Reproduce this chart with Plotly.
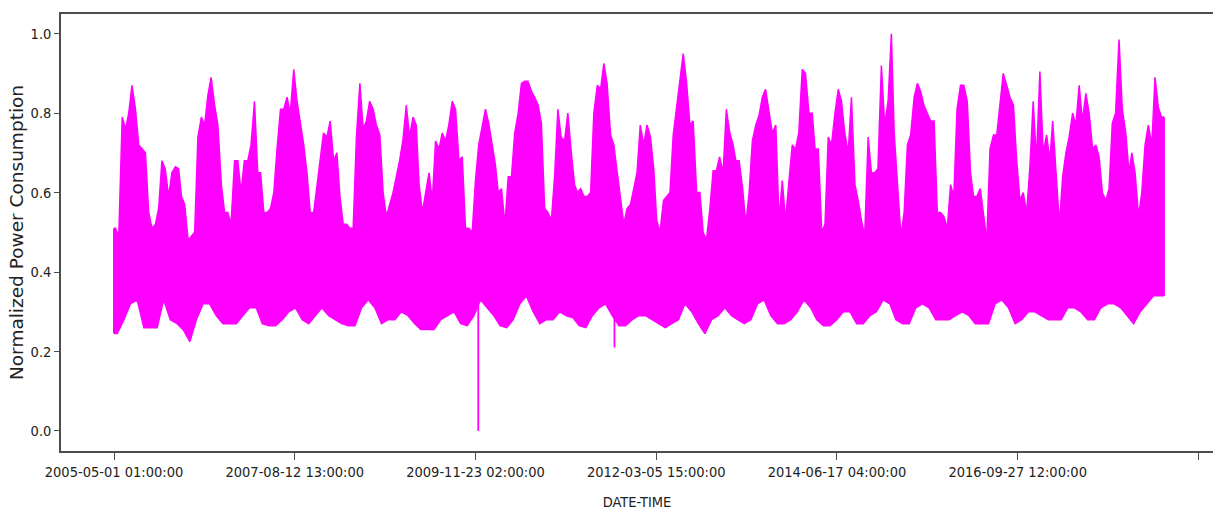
import pandas as pd
import plotly.graph_objects as go

# ---- data: envelope of the hourly series ----
# first month of the record; every array below is consecutive from here
first_month = "2005-05-01"

# upper envelope, one value per half-month (May 2005 ... Jul 2018)
halfmonth_max = [
    0.51, 0.49, 0.79, 0.76, 0.80, 0.87, 0.81, 0.72, 0.71, 0.70,
    0.55, 0.51, 0.52, 0.56, 0.68, 0.66, 0.59, 0.65, 0.665, 0.66,
    0.59, 0.57, 0.48, 0.49, 0.50, 0.74, 0.79, 0.77, 0.845, 0.89,
    0.82, 0.77, 0.62, 0.55, 0.55, 0.52, 0.68, 0.68, 0.60, 0.68,
    0.68, 0.72, 0.83, 0.65, 0.65, 0.55, 0.55, 0.56, 0.60, 0.71,
    0.81, 0.81, 0.84, 0.80, 0.91, 0.83, 0.77, 0.72, 0.65, 0.55,
    0.55, 0.62, 0.69, 0.75, 0.74, 0.78, 0.68, 0.70, 0.59, 0.52,
    0.52, 0.51, 0.51, 0.74, 0.875, 0.76, 0.78, 0.83, 0.81, 0.77,
    0.745, 0.60, 0.54, 0.57, 0.60, 0.64, 0.68, 0.73, 0.82, 0.74,
    0.79, 0.77, 0.62, 0.55, 0.60, 0.65, 0.58, 0.73, 0.71, 0.75,
    0.73, 0.77, 0.83, 0.81, 0.68, 0.69, 0.51, 0.51, 0.50, 0.63,
    0.72, 0.76, 0.81, 0.775, 0.72, 0.67, 0.60, 0.61, 0.52, 0.64,
    0.64, 0.75, 0.80, 0.875, 0.88, 0.88, 0.855, 0.84, 0.82, 0.775,
    0.56, 0.55, 0.53, 0.64, 0.81, 0.74, 0.73, 0.80, 0.70, 0.62,
    0.60, 0.61, 0.59, 0.59, 0.60, 0.80, 0.87, 0.86, 0.925, 0.875,
    0.745, 0.72, 0.65, 0.58, 0.52, 0.56, 0.57, 0.61, 0.65, 0.77,
    0.72, 0.77, 0.74, 0.66, 0.53, 0.50, 0.58, 0.59, 0.60, 0.745,
    0.82, 0.88, 0.95, 0.88, 0.77, 0.78, 0.60, 0.60, 0.50, 0.48,
    0.56, 0.655, 0.655, 0.69, 0.65, 0.81, 0.75, 0.72, 0.68, 0.68,
    0.61, 0.52, 0.60, 0.73, 0.77, 0.795, 0.84, 0.86, 0.80, 0.75,
    0.77, 0.53, 0.63, 0.53, 0.63, 0.72, 0.71, 0.75, 0.91, 0.90,
    0.80, 0.80, 0.71, 0.71, 0.50, 0.52, 0.74, 0.72, 0.80, 0.86,
    0.83, 0.75, 0.70, 0.84, 0.62, 0.58, 0.53, 0.49, 0.74, 0.65,
    0.65, 0.66, 0.92, 0.77, 0.83, 1.00, 0.75, 0.61, 0.49, 0.55,
    0.72, 0.745, 0.84, 0.875, 0.855, 0.82, 0.80, 0.78, 0.78, 0.55,
    0.55, 0.54, 0.51, 0.62, 0.59, 0.81, 0.87, 0.87, 0.83, 0.65,
    0.59, 0.59, 0.61, 0.54, 0.48, 0.71, 0.745, 0.745, 0.815, 0.90,
    0.87, 0.84, 0.82, 0.68, 0.58, 0.60, 0.55, 0.665, 0.83, 0.68,
    0.905, 0.70, 0.745, 0.68, 0.78, 0.65, 0.52, 0.64, 0.70, 0.74,
    0.80, 0.77, 0.87, 0.78, 0.85, 0.80, 0.71, 0.72, 0.69, 0.60,
    0.58, 0.61, 0.775, 0.80, 0.985, 0.81, 0.75, 0.65, 0.70, 0.65,
    0.54, 0.60, 0.72, 0.77, 0.72, 0.89, 0.815, 0.79,
]

# lower envelope, one value per month (May 2005 ... Jul 2018)
monthly_min = [
    0.245, 0.28, 0.32, 0.33, 0.26, 0.26, 0.26, 0.33, 0.28, 0.27,
    0.255, 0.225, 0.28, 0.32, 0.32, 0.29, 0.27, 0.27, 0.27, 0.29,
    0.31, 0.31, 0.27, 0.265, 0.265, 0.28, 0.30, 0.31, 0.28, 0.27,
    0.29, 0.31, 0.29, 0.28, 0.27, 0.265, 0.265, 0.31, 0.33, 0.31,
    0.27, 0.28, 0.28, 0.30, 0.29, 0.27, 0.255, 0.255, 0.255, 0.28,
    0.29, 0.30, 0.27, 0.265, 0.29, 0.33, 0.31, 0.29, 0.265, 0.26,
    0.28, 0.32, 0.34, 0.30, 0.27, 0.28, 0.28, 0.30, 0.29, 0.285,
    0.265, 0.26, 0.29, 0.31, 0.32, 0.29, 0.265, 0.265, 0.28, 0.29,
    0.29, 0.28, 0.27, 0.26, 0.27, 0.28, 0.32, 0.30, 0.27, 0.245,
    0.28, 0.29, 0.31, 0.29, 0.28, 0.27, 0.28, 0.32, 0.33, 0.29,
    0.27, 0.27, 0.28, 0.30, 0.33, 0.31, 0.28, 0.265, 0.265, 0.28,
    0.30, 0.30, 0.27, 0.27, 0.29, 0.30, 0.33, 0.32, 0.28, 0.27,
    0.27, 0.31, 0.32, 0.31, 0.28, 0.28, 0.28, 0.29, 0.30, 0.29,
    0.27, 0.27, 0.27, 0.32, 0.33, 0.31, 0.27, 0.28, 0.30, 0.30,
    0.29, 0.28, 0.28, 0.28, 0.31, 0.31, 0.30, 0.28, 0.28, 0.31,
    0.32, 0.32, 0.31, 0.29, 0.27, 0.30, 0.32, 0.34, 0.34,
]

series_start = "2005-05-01 01:00:00"
series_end = "2018-08-03 00:00:00"

# isolated sharp drops (outages)
drop_dates = ["2009-12-06", "2011-08-26"]
drop_from = [0.34, 0.30]
drop_to = [0.0, 0.21]

tick_labels = ["2005-05-01 01:00:00", "2007-08-12 13:00:00", "2009-11-23 02:00:00",
               "2012-03-05 15:00:00", "2014-06-17 04:00:00", "2016-09-27 12:00:00"]
y_ticks = [0.0, 0.2, 0.4, 0.6, 0.8, 1.0]
y_tick_text = ["0.0", "0.2", "0.4", "0.6", "0.8", "1.0"]

COLOR = "#FF00FF"
start = pd.Timestamp(series_start)
end = pd.Timestamp(series_end)

n_months = len(monthly_min)
months = pd.date_range(first_month, periods=n_months, freq="MS")
half_x = []
for m in pd.date_range(first_month, periods=(len(halfmonth_max) + 1) // 2, freq="MS"):
    half_x += [m + pd.Timedelta(days=7), m + pd.Timedelta(days=22)]
half_x = half_x[:len(halfmonth_max)]
mid_x = [m + pd.Timedelta(days=15) for m in months]

up_x = [start] + half_x + [end]
up_y = [halfmonth_max[0]] + list(halfmonth_max) + [halfmonth_max[-1]]
lo_x = [start] + mid_x + [end]
lo_y = [monthly_min[0]] + list(monthly_min) + [monthly_min[-1]]

fig = go.Figure()
fig.add_trace(go.Scatter(x=lo_x, y=lo_y, mode="lines",
                         line=dict(color=COLOR, width=1.5), hoverinfo="skip"))
fig.add_trace(go.Scatter(x=up_x, y=up_y, mode="lines", fill="tonexty",
                         fillcolor=COLOR, line=dict(color=COLOR, width=1.5)))
fig.add_trace(go.Scatter(x=[start, start, None, end, end],
                         y=[lo_y[0], up_y[0], None, lo_y[-1], up_y[-1]],
                         mode="lines", line=dict(color=COLOR, width=2)))
dx, dy = [], []
for d, a, b in zip(drop_dates, drop_from, drop_to):
    dx += [pd.Timestamp(d), pd.Timestamp(d), None]
    dy += [a, b, None]
fig.add_trace(go.Scatter(x=dx, y=dy, mode="lines", line=dict(color=COLOR, width=1.8)))

# axis geometry (matches the reference pixel layout)
hours_per_px = 20000 / 180.7
x_left = start - pd.Timedelta(hours=53 * hours_per_px)
x_right = start + pd.Timedelta(hours=1099 * hours_per_px)
tickvals = [pd.Timestamp(t) for t in tick_labels] + \
           [pd.Timestamp(tick_labels[-1]) + pd.Timedelta(hours=20000)]
ticktext = tick_labels + [""]

FONT = "DejaVu Sans Condensed, DejaVu Sans"
AX = "#4d4d4d"
fig.update_layout(
    width=1213, height=512,
    margin=dict(l=61, r=0, t=14, b=61),
    paper_bgcolor="white", plot_bgcolor="white",
    showlegend=False,
    xaxis=dict(
        type="date", range=[x_left, x_right],
        tickmode="array", tickvals=tickvals, ticktext=ticktext,
        showgrid=False, zeroline=False,
        showline=True, linecolor=AX, linewidth=1.5, mirror=True,
        ticks="outside", ticklen=7, tickcolor=AX,
        tickfont=dict(family=FONT, size=14.5, color="#222"),
        title=dict(text="DATE-TIME", font=dict(family=FONT, size=14.5, color="#222"), standoff=18),
    ),
    yaxis=dict(
        range=[-0.0506, 1.0496],
        tickmode="array", tickvals=y_ticks, ticktext=y_tick_text,
        showgrid=False, zeroline=False,
        showline=True, linecolor=AX, linewidth=1.5,
        ticks="outside", ticklen=5, tickcolor=AX,
        tickfont=dict(family=FONT, size=14.5, color="#222"),
        title=dict(text="Normalized Power Consumption",
                   font=dict(family="DejaVu Sans", size=18.5, color="#222"), standoff=2),
    ),
)

fig.write_html("out.html", config={"displayModeBar": False},
               post_script="document.body.style.margin='0';")
